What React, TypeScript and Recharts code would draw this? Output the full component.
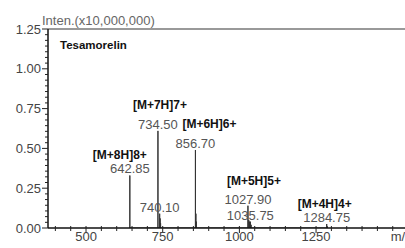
import React from 'react';
import { ComposedChart, Line, Scatter, XAxis, YAxis, ReferenceLine } from 'recharts';

// peak list (m/z, intensity in units of 10,000,000)
const peakMz = [642.85, 734.5, 740.1, 741.6, 743.1, 856.7, 858.2, 859.7, 1027.9, 1030.5, 1033.0, 1035.75, 1038.2, 1284.75, 1287.0];
const peakInten = [0.33, 0.61, 0.09, 0.06, 0.03, 0.49, 0.09, 0.04, 0.14, 0.05, 0.04, 0.04, 0.02, 0.025, 0.01];

// annotated peaks
const labelMz = [642.85, 734.5, 740.1, 856.7, 1027.9, 1035.75, 1284.75];
const labelIon = ['[M+8H]8+', '[M+7H]7+', '', '[M+6H]6+', '[M+5H]5+', '', '[M+4H]4+'];

const xMajorTicks = [500, 750, 1000, 1250];
const yMajorTicks = [0, 0.25, 0.5, 0.75, 1.0, 1.25];

const FONT = '"Liberation Sans", Arial, sans-serif';

// tick lists with minor marks
const xTicks: number[] = [];
for (let v = 400; v <= 1500; v += 50) xTicks.push(v);
const yTicks: number[] = [];
for (let i = 0; i <= 35; i++) yTicks.push((i * 0.25) / 7);

// stick spectrum: each peak drawn as baseline -> top -> baseline
const stickData = peakMz.flatMap((mz, i) => [
  { mz, y: 0 },
  { mz, y: peakInten[i] },
  { mz, y: 0 },
]);

const labelData = labelMz.map((mz, i) => ({
  mz,
  y: peakInten[peakMz.indexOf(mz)],
  ion: labelIon[i],
  text: mz.toFixed(2),
}));

// nudges for ion names so they sit like in the original
const ionShift: Record<string, [number, number]> = {
  '[M+8H]8+': [-10, -14],
  '[M+7H]7+': [2, -20],
  '[M+6H]6+': [14, -20],
  '[M+5H]5+': [6, -19],
  '[M+4H]4+': [-2, -14],
};

const XTick = (props: any) => {
  const { x, y, payload } = props;
  const major = xMajorTicks.includes(payload.value);
  return (
    <g>
      <line x1={x} x2={x} y1={y - 2} y2={y + (major ? 5 : 3)} stroke="#222" strokeWidth={1} />
      {major && (
        <text x={x} y={y + 13} textAnchor="middle" fill="#444" fontSize={13} fontFamily={FONT}>
          {payload.value}
        </text>
      )}
      {payload.value === 1500 && (
        <text x={x - 2} y={y + 13} textAnchor="start" fill="#444" fontSize={13} fontFamily={FONT}>
          m/z
        </text>
      )}
    </g>
  );
};

const YTick = (props: any) => {
  const { x, y, index } = props;
  const major = index % 7 === 0;
  return (
    <g>
      <line x1={x} x2={x - (major ? 6 : 3)} y1={y} y2={y} stroke="#222" strokeWidth={1} />
      {major && (
        <text x={x - 7} y={y + 4.5} textAnchor="end" fill="#444" fontSize={13} fontFamily={FONT}>
          {yMajorTicks[index / 7].toFixed(2)}
        </text>
      )}
    </g>
  );
};

const PeakLabel = (props: any) => {
  const { cx, cy, payload } = props;
  const shift = ionShift[payload.ion] || [0, -17];
  return (
    <g>
      <text x={cx} y={cy - 2} textAnchor="middle" fill="#555" fontSize={13} fontFamily={FONT}>
        {payload.text}
      </text>
      {payload.ion && (
        <text
          x={cx + shift[0]}
          y={cy - 2 + shift[1]}
          textAnchor="middle"
          fill="#111"
          fontSize={12}
          fontWeight="bold"
          fontFamily={FONT}
        >
          {payload.ion}
        </text>
      )}
    </g>
  );
};

export default function App() {
  return (
    <div style={{ position: 'absolute', left: 0, top: 0, width: 405, height: 248, background: '#fff' }}>
      <ComposedChart width={405} height={248} margin={{ top: 29, right: 0, bottom: 0, left: 0 }}>
        <XAxis
          type="number"
          dataKey="mz"
          domain={[376, 1540]}
          ticks={xTicks}
          allowDataOverflow
          height={20}
          tickSize={0}
          tickMargin={0}
          tick={<XTick />}
          axisLine={{ stroke: '#111', strokeWidth: 1.5 }}
          interval={0}
        />
        <YAxis
          type="number"
          dataKey="y"
          domain={[0, 1.25]}
          ticks={yTicks}
          allowDataOverflow
          width={48}
          tickSize={0}
          tickMargin={0}
          tick={<YTick />}
          axisLine={{ stroke: '#111', strokeWidth: 1.5 }}
          interval={0}
        />
        <ReferenceLine y={1.25} stroke="#777" strokeWidth={1.5} />
        <Line
          data={stickData}
          dataKey="y"
          type="linear"
          stroke="#333"
          strokeWidth={1}
          dot={false}
          activeDot={false}
          isAnimationActive={false}
        />
        <Scatter data={labelData} dataKey="y" shape={<PeakLabel />} isAnimationActive={false} />
        <text x={42} y={25} fill="#666" fontSize={13} fontFamily={FONT}>
          Inten.(x10,000,000)
        </text>
        <text x={60} y={49} fill="#111" fontSize={11.5} fontWeight="bold" fontFamily={FONT}>
          Tesamorelin
        </text>
      </ComposedChart>
    </div>
  );
}
